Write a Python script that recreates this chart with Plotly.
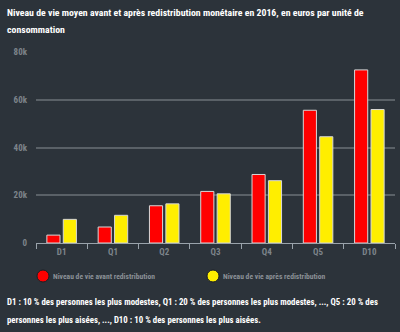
import plotly.graph_objects as go

categories = ["D1", "Q1", "Q2", "Q3", "Q4", "Q5", "D10"]
avant = [3300, 6700, 15600, 21600, 28700, 55600, 72500]
apres = [9900, 11600, 16400, 20600, 26100, 44500, 55900]
series_names = ["Niveau de vie avant redistribution", "Niveau de vie après redistribution"]
colors = ["#ff0000", "#ffee00"]
ytick_vals = [0, 20000, 40000, 60000, 80000]
ytick_text = ["0", "20k", "40k", "60k", "80k"]

title_lines = ["Niveau de vie moyen avant et après redistribution monétaire en 2016, en euros par unité de",
               "consommation"]
footnote_lines = ["D1 : 10 % des personnes les plus modestes, Q1 : 20 % des personnes les plus modestes, ..., Q5 : 20 % des",
                  "personnes les plus aisées, ..., D10 : 10 % des personnes les plus aisées."]

BG = "#2c333a"
FONT = "Roboto Condensed, Roboto, sans-serif"

W, H = 400, 332
L, R, T, B = 36, 5, 52, 89
pw, ph = W - L - R, H - T - B


def px(x):
    return (x - L) / pw


def py(y):
    return (H - B - y) / ph


fig = go.Figure()
for name, vals, col in zip(series_names, [avant, apres], colors):
    fig.add_trace(go.Bar(
        x=categories, y=vals, name=name,
        marker=dict(color=col, line=dict(color="#d8d8d8", width=1)),
        showlegend=False,
    ))

annotations = []
# title and footnote, one annotation per line for exact line spacing
for lines, y0, size in [(title_lines, 12, 9.8), (footnote_lines, 302, 8.8)]:
    for k, line in enumerate(lines):
        annotations.append(dict(text=line, x=px(5), y=py(y0 + 18 * k), xref="paper", yref="paper",
                                xanchor="left", yanchor="middle", align="left", showarrow=False,
                                font=dict(family=FONT, size=size, color="#ffffff", weight="bold")))

shapes = []
for i, (name, col) in enumerate(zip(series_names, colors)):
    cx = [43, 213][i]
    shapes.append(dict(type="circle", xref="paper", yref="paper",
                       xsizemode="pixel", ysizemode="pixel",
                       xanchor=px(cx), yanchor=py(276),
                       x0=-6, x1=6, y0=-6, y1=6,
                       fillcolor=col, line=dict(color="#1a1f24", width=1)))
    annotations.append(dict(text=name, x=px(cx + 8), y=py(276), xref="paper", yref="paper",
                            xanchor="left", yanchor="middle", showarrow=False,
                            font=dict(family=FONT, size=7.6, color="#8a9096", weight="bold")))

fig.update_layout(
    width=W, height=H,
    margin=dict(l=L, r=R, t=T, b=B),
    paper_bgcolor=BG, plot_bgcolor=BG,
    barmode="group", bargap=0.36, bargroupgap=0.2,
    annotations=annotations, shapes=shapes,
    xaxis=dict(showline=True, linecolor="#9aa3ab", linewidth=1,
               ticks="outside", tickson="boundaries", ticklen=5, tickcolor="#9aa3ab",
               tickfont=dict(family=FONT, size=9, color="#7d848a", weight="bold"),
               showgrid=False),
    yaxis=dict(range=[0, 80000], tickvals=ytick_vals, ticktext=ytick_text,
               gridcolor="#5a6167", gridwidth=1.5, zeroline=False,
               tickfont=dict(family=FONT, size=9, color="#7d848a", weight="bold"),
               ticklabelstandoff=8),
    font=dict(family=FONT),
)

fig.write_html("out.html")
